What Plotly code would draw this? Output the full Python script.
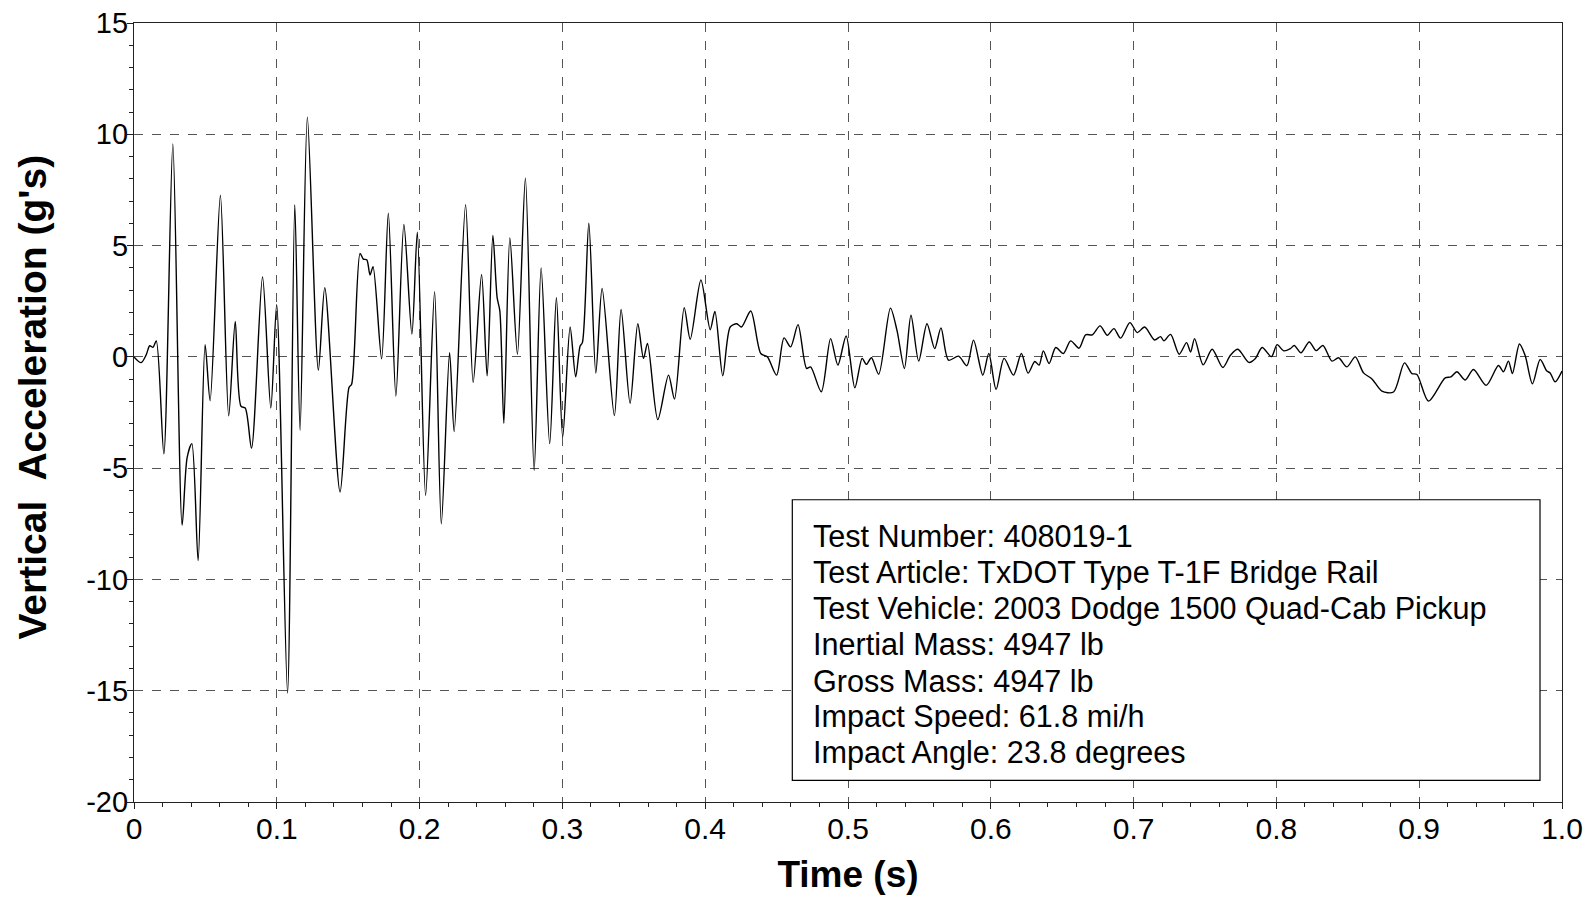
import plotly.graph_objects as go

# vertical acceleration trace (time in s, accel in g's)
time_s = [
    0.0, 0.005, 0.0086, 0.011, 0.0133, 0.0156, 0.0209, 0.0272, 0.0337, 0.0372, 0.0405, 0.0449,
    0.0498, 0.0533, 0.0605, 0.0663, 0.0709, 0.0749, 0.0779, 0.0823, 0.09, 0.0958, 0.0999,
    0.1075, 0.1126, 0.1163, 0.1214, 0.1291, 0.1336, 0.1443, 0.1506, 0.1524, 0.1583, 0.1606,
    0.163, 0.1653, 0.1674, 0.1734, 0.1781, 0.1834, 0.189, 0.1946, 0.1984,
    0.2042, 0.2105, 0.2152, 0.221, 0.2242, 0.2322, 0.2375, 0.2434, 0.2473, 0.2513, 0.2543,
    0.2562, 0.259, 0.2632, 0.2685, 0.2741, 0.2802, 0.2851, 0.2911, 0.2958,
    0.3002, 0.3054, 0.3093, 0.3124, 0.314, 0.3185, 0.3234, 0.3278, 0.3364, 0.3411, 0.3474,
    0.3528, 0.3568, 0.3596, 0.3668, 0.3743, 0.3785, 0.3853, 0.3895, 0.397,
    0.4035, 0.4068, 0.4123, 0.4175, 0.4221, 0.4254, 0.4319, 0.4389, 0.4435, 0.45, 0.4552,
    0.4598, 0.465, 0.471, 0.4738, 0.4813, 0.4878, 0.4929, 0.4987, 0.5048, 0.5099, 0.5129,
    0.5164, 0.5215, 0.5297, 0.5343, 0.5395, 0.5441, 0.5495, 0.5553, 0.5607, 0.5651, 0.5704,
    0.5774, 0.5832, 0.5879, 0.5944, 0.5986, 0.6037,
    0.6093, 0.6159, 0.6214, 0.6261, 0.6308, 0.6338, 0.6368, 0.6408, 0.6455, 0.6508, 0.6559,
    0.6618, 0.6664, 0.6711, 0.6765, 0.6816, 0.6862, 0.6909, 0.6974, 0.7026, 0.7077, 0.7147,
    0.7189, 0.7212, 0.7259, 0.7319, 0.7371, 0.7399, 0.7427, 0.7487, 0.755, 0.7625, 0.7678,
    0.773, 0.7807, 0.7853, 0.79, 0.7965, 0.8005, 0.8051, 0.8098,
    0.8125, 0.8172, 0.823, 0.8279, 0.8326, 0.8389, 0.8435, 0.8494, 0.8552, 0.861, 0.8669,
    0.8739, 0.882, 0.8897, 0.8949, 0.8984, 0.9065, 0.9182, 0.9222, 0.9264, 0.9322, 0.938,
    0.9469, 0.9555, 0.959, 0.9625, 0.9653, 0.9702, 0.9742, 0.9793, 0.9847, 0.9894, 0.9917,
    0.9952, 1.0,
]
accel_g = [
    0, -0.26, 0.1, 0.5, 0.43, 0.72, -4.36, 9.57, -7.56, -4.53, -3.9, -9.15,
    0.55, -1.97, 7.26, -2.65, 1.59, -2.22, -2.3, -4.1, 3.59, -2.3, 2.34,
    -15.1, 6.84, -3.3, 10.77, -0.6, 3.11, -6.07, -1.37, -1.23, 4.65, 4.39,
    4.36, 3.68, 4.05, -0.09, 6.46, -1.76, 5.95, 1.03, 5.6,
    -6.22, 2.93, -7.5, 0.19, -3.36, 6.84, -1.15, 3.7, -0.85, 5.45, 2.66,
    2.06, -2.99, 5.34, 0.12, 8.03, -5.1, 4.0, -3.9, 2.66,
    -3.6, 1.34, -0.9, 0.49, 0.64, 6.01, -0.73, 3.07, -2.64, 2.13, -2.09,
    1.49, -0.07, 0.6, -2.82, -0.82, -1.9, 2.21, 0.79, 3.45,
    1.22, 2.04, -0.85, 1.34, 1.49, 1.34, 2.06, 0.15, 0.0, -0.82, 0.85,
    0.45, 1.45, -0.52, -0.45, -1.57, 0.82, -0.37, 0.94, -1.39, -0.07, -0.34,
    -0.04, -0.78, 2.19, 1.19, -0.52, 1.87, -0.19, 1.49, 0.37, 1.3, -0.15,
    0.03, -0.4, 0.75, -0.82, 0.15, -1.46,
    -0.07, -0.82, 0.15, -0.73, -0.21, -0.37, 0.27, -0.3, 0.42, 0.15, 0.72,
    0.39, 0.99, 0.99, 1.39, 0.97, 1.27, 0.84, 1.54, 1.09, 1.34, 0.76,
    0.91, 0.72, 1.01, 0.12, 0.64, 0.22, 0.82, -0.36, 0.34, -0.48, 0.07,
    0.34, -0.25, -0.07, 0.42, 0.01, 0.55, 0.27, 0.37,
    0.51, 0.18, 0.67, 0.28, 0.51, -0.19, -0.04, -0.45, 0.0, -0.72, -0.99,
    -1.54, -1.58, -0.27, -0.75, -0.79, -1.99, -0.94, -0.9, -0.67, -1.04, -0.57,
    -1.28, -0.39, -0.67, -0.19, -0.75, 0.58, 0.06, -1.21, -0.12, -0.64, -0.72,
    -1.12, -0.64,
]

x_ticks = [0, 0.1, 0.2, 0.3, 0.4, 0.5, 0.6, 0.7, 0.8, 0.9, 1.0]
x_labels = ['0', '0.1', '0.2', '0.3', '0.4', '0.5', '0.6', '0.7', '0.8', '0.9', '1.0']
y_ticks = [15, 10, 5, 0, -5, -10, -15, -20]
y_labels = ['15', '10', '5', '0', '-5', '-10', '-15', '-20']

info_lines = [
    'Test Number: 408019-1',
    'Test Article: TxDOT Type T-1F Bridge Rail',
    'Test Vehicle: 2003 Dodge 1500 Quad-Cab Pickup',
    'Inertial Mass: 4947 lb',
    'Gross Mass: 4947 lb',
    'Impact Speed: 61.8 mi/h',
    'Impact Angle: 23.8 degrees',
]

FONT = 'Arial, Liberation Sans, sans-serif'

fig = go.Figure()
fig.add_trace(go.Scatter(x=time_s, y=accel_g, mode='lines',
                         line=dict(color='black', width=1.4, shape='spline', smoothing=0.8),
                         showlegend=False, hoverinfo='skip'))

axis_common = dict(
    showline=True, linecolor='#222', linewidth=1.2, mirror=True,
    showgrid=True, gridcolor='#555', gridwidth=1, griddash='dash',
    zeroline=False, ticks='outside', ticklen=6, tickcolor='#222',
    tickmode='array', automargin=False, ticklabeloverflow='allow',
)

fig.update_xaxes(range=[0, 1.0], tickvals=x_ticks, ticktext=x_labels, ticklabelstandoff=-6,
                 tickfont=dict(family=FONT, size=30, color='black'),
                 minor=dict(tickmode='linear', tick0=0, dtick=0.02, ticks='outside',
                            ticklen=4, tickcolor='#222', showgrid=False),
                 title=dict(text='<b>Time (s)</b>', font=dict(family=FONT, size=37, color='black'),
                            standoff=23),
                 **axis_common)
fig.update_yaxes(range=[-20, 15], tickvals=y_ticks, ticktext=y_labels, ticklabelstandoff=-7,
                 tickfont=dict(family=FONT, size=29, color='black'),
                 minor=dict(tickmode='linear', tick0=0, dtick=1, ticks='outside',
                            ticklen=4, tickcolor='#222', showgrid=False),
                 **axis_common)

# y title sits a little above the plot centre in the original, so place it by hand
fig.add_annotation(xref='paper', yref='paper', x=-0.071, y=0.52, textangle=-90,
                   xanchor='center', yanchor='middle', showarrow=False,
                   text='<b>Vertical\u00a0 Acceleration (g\'s)</b>',
                   font=dict(family=FONT, size=39, color='black'))

# info box
fig.add_shape(type='rect', xref='paper', yref='paper', x0=0.461, x1=0.9846, y0=0.0277, y1=0.388,
              line=dict(color='black', width=1.2), fillcolor='white', layer='above')
top_y = 0.3414
step = 0.0464
for i, line in enumerate(info_lines):
    fig.add_annotation(xref='paper', yref='paper', x=0.4738, y=top_y - i * step,
                       xanchor='left', yanchor='middle', text=line, showarrow=False,
                       font=dict(family=FONT, size=30.6, color='black'))

# page body adds 8px around the div, so the figure is sized to fit the window
fig.update_layout(
    width=1578, height=887,
    margin=dict(l=126, r=24, t=15, b=93),
    paper_bgcolor='white', plot_bgcolor='white',
    font=dict(family=FONT, color='black'),
)

fig.write_html('out.html')
